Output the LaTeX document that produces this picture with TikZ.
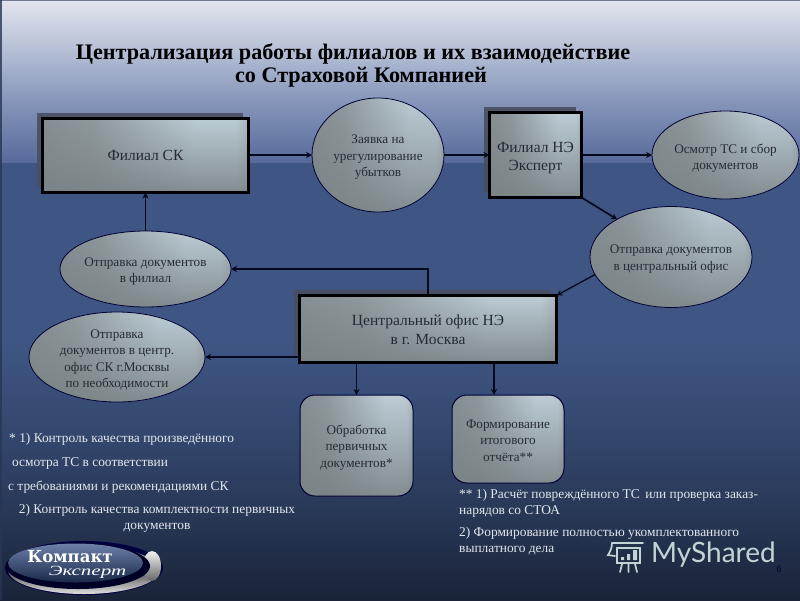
\documentclass[tikz,border=0pt]{standalone}
\usepackage{graphicx}
\usepackage{fontspec}
\setmainfont{Liberation Serif}
\newfontfamily\wmfont{Lato}
\newfontfamily\logofont{DejaVu Serif}
\usetikzlibrary{shapes.geometric,arrows.meta,fadings,shadows}
\definecolor{cA}{HTML}{858F93}
\definecolor{cB}{HTML}{8F999D}
\definecolor{cC}{HTML}{BCCCD5}
\definecolor{cD}{HTML}{A9B7BE}
\definecolor{ink}{HTML}{262B33}
\definecolor{lite}{HTML}{E3E7EE}
\definecolor{arrowc}{HTML}{04081C}
\definecolor{wmc}{HTML}{C4D4D6}
\definecolor{shadowc}{HTML}{4A4E60}
\pgfdeclarehorizontalshading{nodeH}{100bp}{color(0bp)=(cA);color(25bp)=(cA);color(37bp)=(cB);color(62bp)=(cC);color(72bp)=(cC);color(75bp)=(cD);color(100bp)=(cD)}
\tikzfading[name=fadeDown,top color=transparent!100,middle color=transparent!100,bottom color=transparent!15]
\tikzset{
  x=1pt,y=-1pt,
  filled/.style={preaction={shading=nodeH},preaction={fill=cA!90!black,path fading=fadeDown}},
  txt/.style={text=ink,align=center,font=\fontsize{13.2}{16.5}\selectfont,inner sep=0pt,outer sep=0pt},
  bigtxt/.style={text=ink,align=center,font=\fontsize{15.5}{18.5}\selectfont,inner sep=0pt,outer sep=0pt},
  tl/.style 2 args={label={[txt,yshift=-#1pt]center:#2}},
  tlb/.style 2 args={label={[bigtxt,yshift=-#1pt]center:#2}},
  bigbox/.style={general shadow={fill=shadowc,fill opacity=.9,shadow xshift=-6pt,shadow yshift=5.5pt},filled,inner sep=0pt,outer sep=0pt,draw=black,line width=3pt},
  oval/.style={ellipse,filled,inner sep=0pt,outer sep=0pt,draw=black!80!blue,line width=.8pt},
  rbox/.style={rounded corners=15pt,filled,inner sep=0pt,outer sep=0pt,draw=black!80!blue,line width=1pt},
  link/.style={draw=arrowc,line width=1.7pt,-{Stealth[length=6pt,width=6pt]}},
  note/.style={text=lite,font=\fontsize{13.4}{16}\selectfont,inner sep=0pt,anchor=west},
  wm/.style={draw=wmc,line width=1.7pt,line cap=round},
}
\definecolor{b0}{HTML}{E2E5EE}\definecolor{b1}{HTML}{BAC3D8}\definecolor{b2}{HTML}{8393B8}\definecolor{b3}{HTML}{56699A}
\definecolor{d0}{HTML}{3F5684}\definecolor{d1}{HTML}{3F5684}\definecolor{d2}{HTML}{34486F}\definecolor{d3}{HTML}{273654}\definecolor{d4}{HTML}{1A2338}
\definecolor{lgblue}{HTML}{2E4A85}
\begin{document}
\begin{tikzpicture}
\useasboundingbox (0,0) rectangle (800,600);
% background
\shade[top color=b0,bottom color=b1] (0,0) rectangle (800,45);
\shade[top color=b1,bottom color=b2] (0,44.5) rectangle (800,105);
\shade[top color=b2,bottom color=b3] (0,104.5) rectangle (800,163.5);
\fill[d0] (0,163) rectangle (800,340);
\shade[top color=d1,bottom color=d2] (0,339.5) rectangle (800,430);
\shade[top color=d2,bottom color=d3] (0,429.5) rectangle (800,520);
\shade[top color=d3,bottom color=d4] (0,519.5) rectangle (800,600);
\fill[d3,opacity=.8] (0,0) rectangle (1.5,600);
\fill[d3,opacity=.6] (0,0) rectangle (800,1);
% title
\node[font=\bfseries\fontsize{22.2}{23}\selectfont,text=black,align=center,inner sep=0pt] (title) at (353,65) {Централизация работы филиалов и их взаимодействие\\\hspace*{16pt}со Страховой Компанией};
% nodes
\node[bigbox,minimum width=206pt,minimum height=74pt,tlb={0}{Филиал СК}] (sk) at (145.5,155.5) {};
\node[oval,minimum width=132pt,minimum height=114pt,tl={2.5}{Заявка на\\урегулирование\\убытков}] (zv) at (378,155) {};
\node[bigbox,minimum width=92pt,minimum height=85pt,tlb={3}{Филиал НЭ\\Эксперт}] (ne) at (535.5,155) {};
\node[oval,minimum width=147pt,minimum height=88pt,tl={3}{Осмотр ТС и сбор\\документов}] (os) at (725.5,155) {};
\node[oval,minimum width=162pt,minimum height=101pt,tl={2}{Отправка документов\\в центральный офис}] (oc) at (671,257) {};
\node[oval,minimum width=171pt,minimum height=76pt,tl={2.5}{Отправка документов\\в филиал}] (of) at (145.5,269) {};
\node[bigbox,minimum width=257pt,minimum height=67pt,tlb={0.5}{Центральный офис НЭ\\в г. Москва}] (co) at (428,329) {};
\node[oval,minimum width=176pt,minimum height=90pt,tl={3}{Отправка\\документов в центр.\\офис СК г.Москвы\\по необходимости}] (om) at (117,357) {};
\node[rbox,minimum width=113pt,minimum height=101pt,tl={2}{Обработка\\первичных\\документов*}] (ob) at (356.5,445.5) {};
\node[rbox,minimum width=112pt,minimum height=88pt,tl={1.5}{Формирование\\итогового\\отчёта**}] (fo) at (508,439) {};
% connectors
\coordinate (cup) at (428,294);
\coordinate (fn) at (494,395);
\draw[link] (sk.east |- zv.west) -- (zv.west);
\draw[link] (zv.east) -- (ne.west);
\draw[link] (ne.east) -- (os.west);
\draw[link] (ne.south east) -- (oc.145);
\draw[link,line width=1.3pt] (oc.193) -- (co.north east);
\draw[link] (cup) |- (of.east);
\draw[link] (of.north) -- (sk.south);
\draw[link] (co.west |- om.east) -- (om.east);
\draw[link] (co.south -| ob.north) -- (ob.north);
\draw[link] (co.south -| fn) -- (fn);
% notes
\node[note] (n1) at (9,439) {* 1) Контроль качества произведённого};
\node[note] (n2) at (12,463) {осмотра ТС в соответствии};
\node[note] (n3) at (8,487) {с требованиями и рекомендациями СК};
\node[note,anchor=north,align=center] (n4) at (157,504) {2) Контроль качества комплектности первичных\\документов};
\node[note,anchor=north west,align=left] (n5) at (459,489) {** 1) Расчёт повреждённого ТС\, или проверка заказ-\\нарядов со СТОА};
\node[note,anchor=north west,align=left] (n6) at (459,527) {2) Формирование полностью укомплектованного\\выплатного дела};
% logo
\fill[black!75!blue] (84,568) ellipse[x radius=79,y radius=27];
\shade[top color=gray!60,bottom color=white!75!gray,middle color=black!70] (84,570) ellipse[x radius=76,y radius=24];
\shade[top color=white!90!gray,bottom color=black!60] (152,566) ellipse[x radius=9,y radius=15];
\fill[black!85!blue] (78,566) ellipse[x radius=72,y radius=23];
\shade[top color=lgblue!70!white,middle color=lgblue,bottom color=lgblue!55!black] (75.5,563) ellipse[x radius=67.5,y radius=19.5];
\node[font=\logofont\bfseries\fontsize{16.5}{17}\selectfont,text=white,inner sep=0pt] (lg1) at (70,557) {Компакт};
\node[font=\itshape\fontsize{14}{14}\selectfont,text=white,inner sep=0pt] (lg2) at (87.5,572) {\scalebox{1.5}[1]{Эксперт}};
% watermark
\draw[wm] (617,548) rectangle (640,563);
\draw[wm] (612,543) -- (643,543);
\draw[wm] (612,543) .. controls (612,548) and (610,552) .. (608,555) -- (615,556);
\fill[wmc] (621,557) rectangle (624,560) (627,554) rectangle (630,560) (633,550) rectangle (637,560);
\draw[wm] (622,564) -- (620,572) (628.5,564) -- (628.5,572) (635,564) -- (637,572);
\node[font=\wmfont\fontsize{28}{28}\selectfont,text=wmc,inner sep=0pt,anchor=west] (wmt) at (651,555) {MyShared};
\node[font=\sffamily\fontsize{10}{10}\selectfont,text=black!80!blue,inner sep=0pt] (pg) at (779,569) {6};
\end{tikzpicture}
\end{document}
